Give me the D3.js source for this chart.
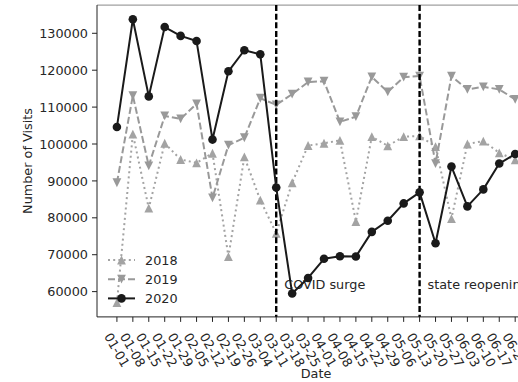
<!DOCTYPE html>
<html><head><meta charset="utf-8">
<script src="https://cdn.jsdelivr.net/npm/d3@7"></script>
<style>
body{margin:0;background:#fff}
svg{display:block}
text{font-family:"DejaVu Sans",sans-serif;fill:#262626}
</style>
</head><body>
<svg id="c" width="518" height="382"></svg>
<script>
const dates = ["01-01","01-08","01-15","01-22","01-29","02-05","02-12","02-19","02-26","03-04",
  "03-11","03-18","03-25","04-01","04-08","04-15","04-22","04-29","05-06","05-13",
  "05-20","05-27","06-03","06-10","06-17","06-24"];
const visits2018 = [57000,102700,82600,100200,95800,94900,97500,69500,96500,84800,
  75800,89500,99600,100200,101000,79000,102000,99500,102000,102200,
  99300,79800,100000,100800,97600,95700];
const visits2019 = [89500,113100,94100,107600,106800,110900,85400,99700,101700,112400,
  110600,113500,116800,117000,106000,107400,118200,114100,118100,118400,
  94700,118400,114800,115500,114800,112100];
const visits2020 = [104600,133800,112900,131700,129300,127900,101200,119700,125400,124300,
  88200,59500,63700,68900,69600,69500,76200,79200,83900,86900,
  73100,93900,83100,87700,94700,97300];
const yTicks = [60000,70000,80000,90000,100000,110000,120000,130000];
const eventDates = ["03-11","05-13"];
const eventLabels = ["COVID surge","state reopening"];
const seriesNames = ["2018","2019","2020"];

const svg = d3.select("#c");
const pL = 97, pT = 5.1, pB = 316.9, pR = 535.1;
const n = dates.length;
const x = d3.scaleLinear().domain([-0.05*(n-1), (n-1)*1.05]).range([pL, pR]);
const y = d3.scaleLinear().domain([53150, 137640]).range([pB, pT]);
const xi = d => x(dates.indexOf(d));

const fs = 12.8;

// spines
svg.append("line").attr("x1",pL).attr("x2",pR).attr("y1",pT).attr("y2",pT).attr("stroke","#888").attr("stroke-width",1);
svg.append("line").attr("x1",pR).attr("x2",pR).attr("y1",pT).attr("y2",pB).attr("stroke","#888").attr("stroke-width",1);

const series = [
  {name:seriesNames[0], values:visits2018, color:"#a3a3a3", dash:"2,3.2", marker:"up"},
  {name:seriesNames[1], values:visits2019, color:"#999999", dash:"7,3", marker:"down"},
  {name:seriesNames[2], values:visits2020, color:"#1a1a1a", dash:null, marker:"circle"}
];

function drawMarker(g, type, cx, cy, color){
  const h = 4.4;
  if(type==="circle"){
    g.append("circle").attr("cx",cx).attr("cy",cy).attr("r",4.3).attr("fill",color);
  } else if(type==="up"){
    g.append("path").attr("d",`M${cx},${cy-h}L${cx-h},${cy+h}L${cx+h},${cy+h}Z`).attr("fill",color);
  } else {
    g.append("path").attr("d",`M${cx},${cy+h}L${cx-h},${cy-h}L${cx+h},${cy-h}Z`).attr("fill",color);
  }
}

const line = d3.line().x((d,i)=>x(i)).y(d=>y(d));

function drawSeries(s){
  const g = svg.append("g");
  g.append("path").attr("d",line(s.values)).attr("fill","none").attr("stroke",s.color)
    .attr("stroke-width",2).attr("stroke-dasharray",s.dash).attr("stroke-linejoin","round");
  s.values.forEach((v,i)=>drawMarker(g,s.marker,x(i),y(v),s.color));
}
drawSeries(series[0]);
drawSeries(series[1]);

// event lines
eventDates.forEach((d,k)=>{
  svg.append("line").attr("x1",xi(d)).attr("x2",xi(d)).attr("y1",pT).attr("y2",pB)
    .attr("stroke","#000").attr("stroke-width",2.4).attr("stroke-dasharray","6,2.6");
  svg.append("text").attr("x",xi(d)+8).attr("y",y(60700)).attr("font-size",fs).text(eventLabels[k]);
});

drawSeries(series[2]);

// left & bottom spines
svg.append("line").attr("x1",pL).attr("x2",pL).attr("y1",pT).attr("y2",pB).attr("stroke","#222").attr("stroke-width",1);
svg.append("line").attr("x1",pL).attr("x2",pR).attr("y1",pB).attr("y2",pB).attr("stroke","#222").attr("stroke-width",1);

// y axis
yTicks.forEach(t=>{
  svg.append("line").attr("x1",pL-5).attr("x2",pL).attr("y1",y(t)).attr("y2",y(t)).attr("stroke","#222");
  svg.append("text").attr("x",pL-9).attr("y",y(t)).attr("dy","0.36em").attr("text-anchor","end")
    .attr("font-size",fs).text(t);
});

// x axis
dates.forEach((d,i)=>{
  const cx = x(i);
  svg.append("line").attr("x1",cx).attr("x2",cx).attr("y1",pB).attr("y2",pB+5).attr("stroke","#222");
  const cy = 350;
  svg.append("text").attr("x",cx).attr("y",cy).attr("dy","0.36em").attr("text-anchor","middle")
    .attr("font-size",fs).attr("transform",`rotate(60,${cx},${cy})`).text(d);
});

// axis labels
svg.append("text").attr("x",(pL+pR)/2).attr("y",378).attr("text-anchor","middle").attr("font-size",fs).text("Date");
svg.append("text").attr("transform",`translate(32,${(pT+pB)/2}) rotate(-90)`).attr("text-anchor","middle")
  .attr("font-size",fs).text("Number of Visits");

// legend
series.forEach((s,k)=>{
  const ly = 260 + k*19.2;
  const g = svg.append("g");
  g.append("line").attr("x1",108).attr("x2",135).attr("y1",ly).attr("y2",ly).attr("stroke",s.color)
    .attr("stroke-width",2).attr("stroke-dasharray",s.dash);
  drawMarker(g,s.marker,121.5,ly,s.color);
  g.append("text").attr("x",145).attr("y",ly).attr("dy","0.36em").attr("font-size",fs).text(s.name);
});
</script>
</body></html>
